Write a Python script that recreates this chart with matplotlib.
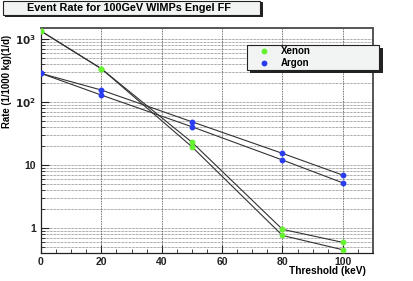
import math
import matplotlib
matplotlib.use("Agg")
import matplotlib.pyplot as plt
from matplotlib.ticker import FixedLocator, FuncFormatter, LogLocator, MultipleLocator, NullFormatter
from matplotlib.patches import Rectangle
from matplotlib.lines import Line2D

thresholds = [0, 20, 50, 80, 100]
xenon_upper = [1340, 338, 23.0, 0.95, 0.59]
xenon_lower = [1340, 338, 19.5, 0.76, 0.45]
argon_upper = [285, 155, 48.6, 15.3, 6.9]
argon_lower = [285, 129, 40.5, 12.0, 5.2]
legend_labels = ["Xenon", "Argon"]
title = "Event Rate for 100GeV WIMPs Engel FF"
xlabel = "Threshold (keV)"
ylabel = "Rate (1/1000 kg)(1/d)"

plt.rcParams['font.family'] = ['Liberation Sans', 'DejaVu Sans']
plt.rcParams['font.weight'] = 'bold'

W, H = 414, 281
fig = plt.figure(figsize=(W / 100, H / 100), dpi=100)
ax = fig.add_axes([41 / W, 1 - 253 / H, 332 / W, 225 / H])
ax.set_yscale('log')
ax.set_xlim(0, 110)
ax.set_ylim(0.4, 1500)

green = '#66f230'
blue = '#2a3cf0'
lc = '#333333'
series = [(xenon_upper, green), (xenon_lower, green), (argon_upper, blue), (argon_lower, blue)]
for ys, c in series:
    ax.plot(thresholds, ys, color=lc, lw=0.8, zorder=3)
for ys, c in series:
    ax.plot(thresholds, ys, ls='none', marker='o', ms=3.2, color=c, mec=c, zorder=4)

ax.xaxis.set_major_locator(MultipleLocator(20))
ax.xaxis.set_minor_locator(MultipleLocator(5))
ax.yaxis.set_major_locator(FixedLocator([1, 10, 100, 1000]))
ax.yaxis.set_minor_locator(LogLocator(base=10, subs=range(2, 10)))
ax.yaxis.set_minor_formatter(NullFormatter())

def yfmt(v, pos):
    if v >= 100:
        return r'$\mathbf{10^{%d}}$' % round(math.log10(v))
    return '%d' % v
ax.yaxis.set_major_formatter(FuncFormatter(yfmt))

ax.grid(which='major', axis='x', ls=(0, (1, 1)), color='#444444', lw=0.6)
ax.grid(which='both', axis='y', ls=(0, (1, 1)), color='#555555', lw=0.5)

ax.tick_params(which='both', direction='in', labelsize=7.5, colors='#222222')
ax.tick_params(which='major', length=6, width=0.8)
ax.tick_params(which='minor', length=3, width=0.6)
ax.tick_params(axis='y', which='both', left=True, right=False)
ax.tick_params(axis='x', which='both', top=False, pad=3)

for s in ['left', 'bottom']:
    ax.spines[s].set_color('#222222')
    ax.spines[s].set_linewidth(0.9)
for s in ['top', 'right']:
    ax.spines[s].set_color('#555555')
    ax.spines[s].set_linewidth(1.4)

fig.text(366 / W, 1 - 271 / H, xlabel, ha='right', va='center', fontsize=7.3, fontweight='bold')
fig.text(7 / W, 1 - 35 / H, ylabel, ha='center', va='top', rotation=90, fontsize=6.9, fontweight='bold')

# title box with shadow
fig.patches.append(Rectangle((5 / W, 1 - 17 / H), 258 / W, 15 / H, transform=fig.transFigure,
                             facecolor='#222222', edgecolor='none', zorder=1))
fig.patches.append(Rectangle((3 / W, 1 - 15 / H), 257 / W, 14 / H, transform=fig.transFigure,
                             facecolor='#f2f4f4', edgecolor='#222222', lw=0.8, zorder=2))
fig.text(129 / W, 1 - 8 / H, title, ha='center', va='center', fontsize=7.8, fontweight='bold', zorder=3)

# legend box with shadow
fig.patches.append(Rectangle((250 / W, 1 - 73 / H), 133 / W, 25 / H, transform=fig.transFigure,
                             facecolor='#222222', edgecolor='none', zorder=5))
fig.patches.append(Rectangle((247 / W, 1 - 70 / H), 132 / W, 25 / H, transform=fig.transFigure,
                             facecolor='#f2f4f4', edgecolor='#222222', lw=0.8, zorder=6))
for lab, c, yy in [(legend_labels[0], green, 51), (legend_labels[1], blue, 63)]:
    fig.add_artist(Line2D([264 / W], [1 - yy / H], transform=fig.transFigure, ls='none',
                          marker='o', ms=3.2, color=c, mec=c, zorder=7))
    fig.text(281 / W, 1 - yy / H, lab, ha='left', va='center', fontsize=7, fontweight='bold', zorder=7)

fig.savefig('out.png', dpi=100)
